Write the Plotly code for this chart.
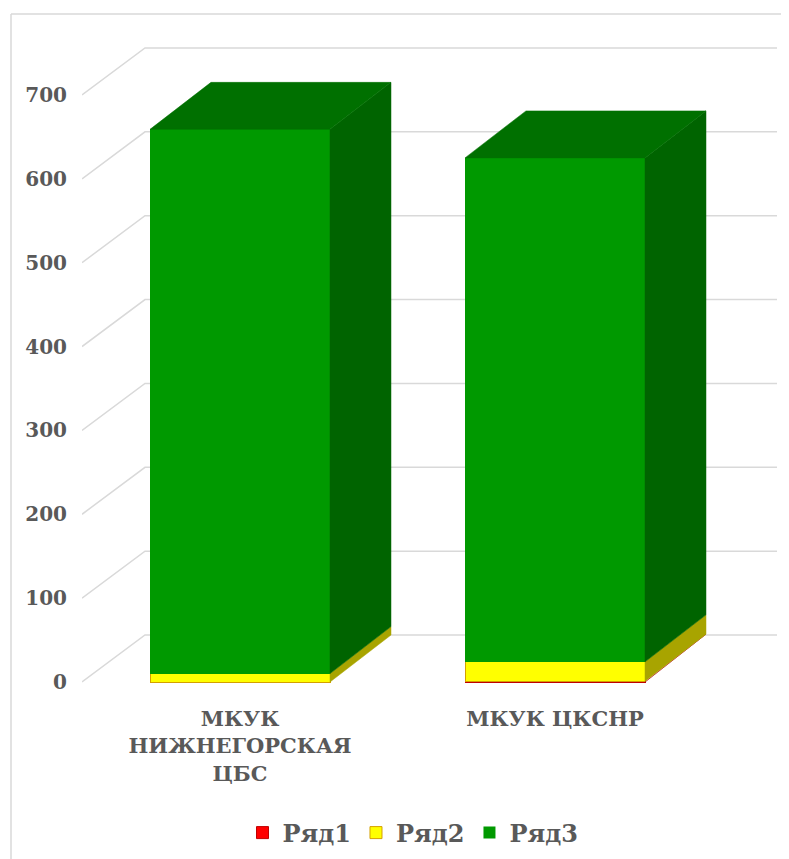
import plotly.graph_objects as go

# --- данные ---------------------------------------------------------------
CATEGORIES = ["МКУК<br>НИЖНЕГОРСКАЯ<br>ЦБС", "МКУК ЦКСНР"]
SERIES = ["Ряд1", "Ряд2", "Ряд3"]
RYAD1 = [0, 1]
RYAD2 = [10, 23]
RYAD3 = [649, 601]
Y_TICKS = [0, 100, 200, 300, 400, 500, 600, 700]

VALUES = {"Ряд1": RYAD1, "Ряд2": RYAD2, "Ряд3": RYAD3}
FRONT = {"Ряд1": "#FF0000", "Ряд2": "#FFFF00", "Ряд3": "#009900"}
SIDE = {"Ряд1": "#B00000", "Ряд2": "#A8A400", "Ряд3": "#006400"}
TOP = {"Ряд1": "#D00000", "Ряд2": "#C8C800", "Ряд3": "#007000"}
EDGE = {"Ряд1": "#C00000", "Ряд2": "#D4A000", "Ряд3": "#009900"}
TEXT = "#595959"
GRID = "#D9D9D9"
FONT = "DejaVu Serif"

# --- геометрия (псевдо-3D, косоугольная проекция) ---------------------------
OFF = 8                                  # отступ body страницы, px
W, H = 789, 859
PL, PR, PT, PB = 82 - OFF, 777 - OFF, 20 - OFF, 700 - OFF
Y_PX = 0.8386                            # px на единицу значения
Y0_PX = 682 - OFF                        # px нулевого уровня
X_PX = 315                               # px между категориями
X0_PX = 240 - OFF                        # px центра первой категории
BAR_W = 180 / X_PX
DX = 61 / X_PX                           # глубина по x
DY = 47 / Y_PX                           # глубина по y (в единицах значения)
DX_WALL = 63 / X_PX

x_rng = [(PL - X0_PX) / X_PX, (PR - X0_PX) / X_PX]
y_rng = [(Y0_PX - PB) / Y_PX, (Y0_PX - PT) / Y_PX]
xs = list(range(len(CATEGORIES)))

fig = go.Figure()

# фронтальные грани — обычные столбцы с накоплением
for s in SERIES:
    lw = 0 if s == "Ряд3" else 1
    fig.add_trace(go.Bar(
        x=xs, y=VALUES[s], name=s, width=BAR_W,
        marker=dict(color=FRONT[s], line=dict(color=EDGE[s], width=lw)),
        hoverinfo="skip",
    ))

# боковые и верхние грани
for i, xc in enumerate(xs):
    base = 0.0
    nonzero = [s for s in SERIES if VALUES[s][i] > 0]
    for s in SERIES:
        v = VALUES[s][i]
        if v <= 0:
            continue
        top = base + v
        xr = xc + BAR_W / 2
        fig.add_trace(go.Scatter(
            x=[xr, xr + DX, xr + DX, xr, xr],
            y=[base, base + DY, top + DY, top, base],
            mode="lines", fill="toself", fillcolor=SIDE[s],
            line=dict(color=SIDE[s], width=0.5),
            showlegend=False, hoverinfo="skip",
        ))
        if s == nonzero[-1]:
            xl = xc - BAR_W / 2
            fig.add_trace(go.Scatter(
                x=[xl, xr, xr + DX, xl + DX, xl],
                y=[top, top, top + DY, top + DY, top],
                mode="lines", fill="toself", fillcolor=TOP[s],
                line=dict(color=TOP[s], width=0.5),
                showlegend=False, hoverinfo="skip",
            ))
        base = top

# линии сетки: боковая стенка + задняя стенка
shapes = []
for v in Y_TICKS:
    shapes.append(dict(
        type="path", layer="below",
        path=(f"M {x_rng[0]},{v} L {x_rng[0] + DX_WALL},{v + DY} "
              f"L {x_rng[1]},{v + DY}"),
        line=dict(color=GRID, width=1.5),
    ))

# рамка области диаграммы
pw, ph = PR - PL, PB - PT
bx0 = (11 - OFF - PL) / pw
by1 = (PB - (14 - OFF)) / ph
shapes.append(dict(type="line", xref="paper", yref="paper",
                   x0=bx0, x1=bx0, y0=by1, y1=-0.5,
                   line=dict(color="#D9D9D9", width=1.5)))
shapes.append(dict(type="line", xref="paper", yref="paper",
                   x0=bx0, x1=1.5, y0=by1, y1=by1,
                   line=dict(color="#D9D9D9", width=1.5)))

fig.update_layout(
    width=W, height=H,
    margin=dict(l=PL, r=W - PR, t=PT, b=H - PB, autoexpand=False),
    paper_bgcolor="white", plot_bgcolor="white",
    barmode="stack",
    shapes=shapes,
    font=dict(family=FONT, size=20, color=TEXT, weight="bold"),
    xaxis=dict(range=x_rng, tickvals=xs, ticktext=CATEGORIES,
               showgrid=False, zeroline=False, showline=False,
               ticks="", ticklabelstandoff=4, automargin=False,
               tickfont=dict(family=FONT, size=21, color=TEXT, weight="bold")),
    yaxis=dict(range=y_rng, tickvals=Y_TICKS,
               showgrid=False, zeroline=False, showline=False,
               ticks="", ticklabelstandoff=14, automargin=False,
               tickfont=dict(family=FONT, size=20, color=TEXT, weight="bold")),
    legend=dict(orientation="h", x=(413 - OFF - PL) / pw, xanchor="center",
                y=(PB - (833 - OFF)) / ph, yanchor="middle",
                traceorder="normal",
                font=dict(family=FONT, size=24, color=TEXT, weight="bold"),
                itemclick=False),
    showlegend=True,
)

fig.write_html("out.html")
